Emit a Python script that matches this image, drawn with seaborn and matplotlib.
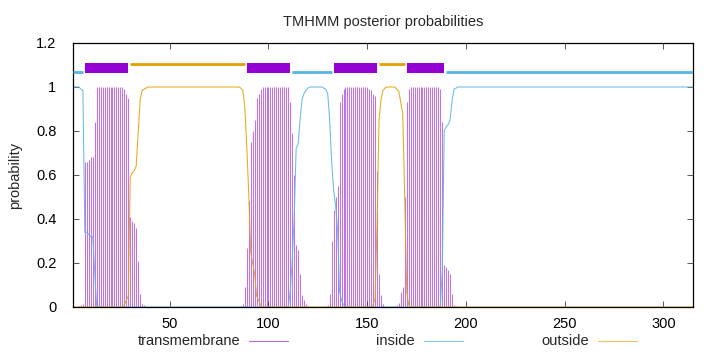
import numpy as np
import pandas as pd
import matplotlib
matplotlib.use("Agg")
import matplotlib.pyplot as plt
import seaborn as sns
from matplotlib.lines import Line2D
from matplotlib.patches import Rectangle

# ---------------- data ----------------
seq_len = 315

tm_prob = ([0.0] * 4
           + [0.01, 0.015, 0.66, 0.66, 0.67, 0.68, 0.68, 0.84]
           + [1.0] * 14
           + [0.99, 0.97, 0.95, 0.41, 0.39, 0.38, 0.36, 0.21, 0.06, 0.015, 0.01, 0.005]
           + [0.0] * 47
           + [0.005, 0.014, 0.09, 0.27, 0.48, 0.75, 0.80, 0.85, 0.95, 0.97, 0.99]
           + [1.0] * 14
           + [0.93, 0.79, 0.60, 0.28, 0.26, 0.15, 0.055, 0.03, 0.015, 0.005]
           + [0.0] * 8
           + [0.005, 0.01, 0.06, 0.30, 0.44, 0.50, 0.55, 0.93, 0.97, 0.99]
           + [1.0] * 12
           + [0.99, 0.985, 0.97, 0.96, 0.62, 0.15, 0.055, 0.015, 0.005]
           + [0.0] * 5
           + [0.01, 0.02, 0.07, 0.09, 0.50, 0.93, 0.99]
           + [1.0] * 15
           + [0.99, 0.84, 0.19, 0.18, 0.17, 0.15, 0.06, 0.01, 0.005]
           + [0.0] * 120)

inside_prob = ([1.0] * 4
               + [0.99, 0.985, 0.34, 0.34, 0.33, 0.32, 0.32, 0.16]
               + [0.0] * 98
               + [0.07, 0.21, 0.40, 0.72, 0.74, 0.85, 0.945, 0.97, 0.985, 0.995]
               + [1.0] * 7
               + [0.995, 0.99, 0.97, 0.85, 0.66, 0.53, 0.46, 0.35, 0.07, 0.03, 0.01]
               + [0.0] * 49
               + [0.16, 0.80, 0.82, 0.83, 0.85, 0.94, 0.99, 0.995]
               + [1.0] * 120)

outside_prob = ([0.0] * 26
                + [0.01, 0.03, 0.05, 0.59, 0.61, 0.62, 0.64, 0.79, 0.94, 0.985, 0.99, 0.995]
                + [1.0] * 47
                + [0.995, 0.985, 0.91, 0.73, 0.52, 0.25, 0.20, 0.15, 0.05, 0.03, 0.01]
                + [0.0] * 56
                + [0.01, 0.04]
                + [0.38, 0.85, 0.945, 0.985, 0.995]
                + [1.0] * 5
                + [0.99, 0.98, 0.93, 0.88, 0.50, 0.07, 0.01]
                + [0.0] * 144)

# predicted topology: (region, first residue, last residue)
topology = [("inside", 1, 6), ("TM", 7, 29), ("outside", 30, 88),
            ("TM", 89, 111), ("inside", 112, 132), ("TM", 133, 155),
            ("outside", 156, 169), ("TM", 170, 189), ("inside", 190, 315)]

x_ticks = [50, 100, 150, 200, 250, 300]
y_ticks = [0, 0.2, 0.4, 0.6, 0.8, 1, 1.2]
legend_labels = ["transmembrane", "inside", "outside"]
title_text = "TMHMM posterior probabilities"
y_label = "probability"

# ---------------- style ----------------
sns.set_theme(style="white")
plt.rcParams["font.family"] = ["Liberation Sans", "DejaVu Sans"]
FS = 10.5

C_TM = "#9400D3"
C_IN = "#56B4E9"
C_OUT = "#E69F00"

residues = np.arange(1, seq_len + 1)
df = pd.DataFrame({"residue": residues, "transmembrane": tm_prob,
                   "inside": inside_prob, "outside": outside_prob})

W, H = 720, 352
fig = plt.figure(figsize=(W / 100, H / 100), dpi=100)
fig.patch.set_facecolor("white")
ax = fig.add_axes([73 / W, 45 / H, 620 / W, 264 / H])
ax.set_facecolor("white")

# impulses for transmembrane
ax.vlines(df["residue"], 0, df["transmembrane"], color=C_TM, alpha=0.55,
          linewidth=0.75)
sns.lineplot(data=df, x="residue", y="inside", color=C_IN, linewidth=0.75,
             alpha=0.9, ax=ax, legend=False)
sns.lineplot(data=df, x="residue", y="outside", color=C_OUT, linewidth=0.75,
             alpha=0.9, ax=ax, legend=False)

# topology on top
y_in, y_out = 1.067, 1.104
box_lo, box_hi = 1.062, 1.108
for region, a, b in topology:
    if region == "TM":
        ax.add_patch(Rectangle((a, box_lo), b - a, box_hi - box_lo,
                               facecolor=C_TM, edgecolor="none", zorder=5))
    elif region == "inside":
        ax.plot([a, b], [y_in, y_in], color=C_IN, linewidth=2.0,
                solid_capstyle="butt", zorder=5)
    else:
        ax.plot([a, b], [y_out, y_out], color=C_OUT, linewidth=2.0,
                solid_capstyle="butt", zorder=5)

ax.set_xlim(1, seq_len)
ax.set_ylim(0, 1.2)
ax.set_xticks(x_ticks)
ax.set_yticks(y_ticks)
ax.set_yticklabels([f"{v:g}" for v in y_ticks])
ax.set_xlabel("")
ax.set_ylabel("")
ax.tick_params(axis="both", direction="in", length=4, width=0.7, colors="black",
               labelsize=FS, top=True, right=True, bottom=True, left=True)
ax.tick_params(axis="x", pad=7, colors="#555555", labelcolor="black")
ax.tick_params(axis="y", pad=12, colors="#555555", labelcolor="black")
for s in ax.spines.values():
    s.set_color("black")
    s.set_linewidth(0.9)
    s.set_visible(True)

fig.text(383 / W, 1 - 22 / H, title_text, ha="center", va="center", fontsize=FS)
fig.text(15 / W, 1 - 175 / H, y_label, ha="center", va="center",
         rotation=90, fontsize=FS)

# legend, gnuplot style: text then sample, fixed column width
leg_colors = ["#B865E8", "#8CCBF0", "#F0C060"]
for i, (lab, col) in enumerate(zip(legend_labels, leg_colors)):
    xe = 240 + 174.5 * i
    yy = 1 - 341 / H
    fig.text(xe / W, yy, lab, ha="right", va="center", fontsize=FS)
    fig.add_artist(Line2D([(xe + 9) / W, (xe + 48) / W], [yy, yy],
                          color=col, linewidth=0.8,
                          transform=fig.transFigure))

fig.savefig("out.png", dpi=100, facecolor="white")
